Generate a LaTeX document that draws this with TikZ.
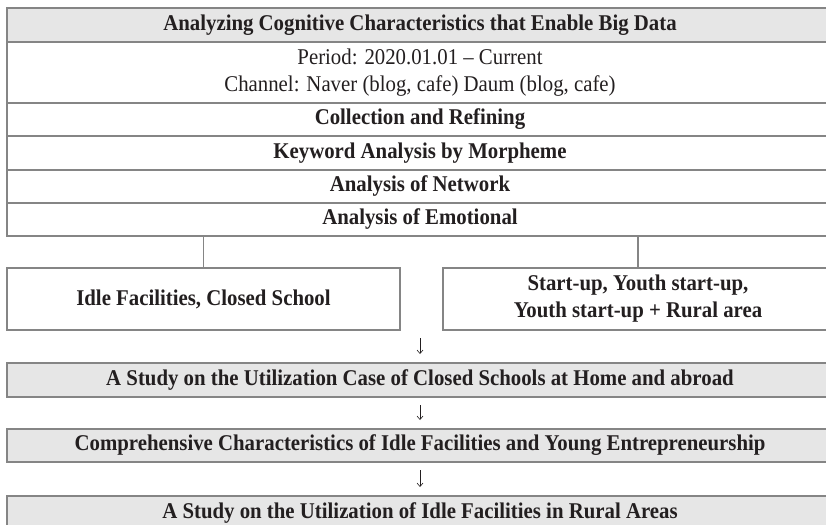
\documentclass[tikz,border=0pt]{standalone}
\usepackage{fontspec}
\setmainfont{Liberation Serif}[FakeStretch=0.925]
\usetikzlibrary{arrows.meta}
\definecolor{bord}{HTML}{858585}
\definecolor{fillg}{HTML}{E6E6E6}
\definecolor{txt}{HTML}{231F20}
\begin{document}
\begin{tikzpicture}[x=1pt,y=-1pt,
  box/.style={draw=bord, line width=1.2pt, inner sep=0pt, outer sep=0pt, text=txt,
    font=\fontsize{22.5}{27}\selectfont\bfseries, align=center, minimum width=826pt},
  greybox/.style={box, fill=fillg},
  plainfont/.style={font=\fontsize{22.5}{27.5}\selectfont},
  conn/.style={draw=bord, line width=1.2pt},
  arr/.style={draw=txt, line width=0.6pt, -{Straight Barb[length=3.5pt,width=6pt]}, shorten <=8pt, shorten >=9pt}]
\useasboundingbox (0,0) rectangle (826,524);
\clip (0,0) rectangle (826,524);
\fill[white] (0,0) rectangle (826,524);
\node[greybox, minimum height=34pt] (t) at (420,25) {Analyzing Cognitive Characteristics that Enable Big Data};
\node[box, plainfont, minimum height=61pt] (p) at (420,72.5) {Period: 2020.01.01 -- Current\\Channel: Naver (blog, cafe) Daum (blog, cafe)};
\node[box, minimum height=33pt] (c) at (420,119.5) {Collection and Refining};
\node[box, minimum height=34pt] (k) at (420,153) {Keyword Analysis by Morpheme};
\node[box, minimum height=33pt] (n) at (420,186.5) {Analysis of Network};
\node[box, minimum height=33pt] (e) at (420,219.5) {Analysis of Emotional};
\node[box, minimum width=393pt, minimum height=62pt] (l) at (203.5,299) {Idle Facilities, Closed School};
\node[box, minimum width=390pt, minimum height=62pt] (r) at (638,299) {Start-up, Youth start-up,\\Youth start-up + Rural area};
\node[greybox, minimum height=34pt] (s1) at (420,380) {A Study on the Utilization Case of Closed Schools at Home and abroad};
\node[greybox, minimum height=33pt] (s2) at (420,445.5) {Comprehensive Characteristics of Idle Facilities and Young Entrepreneurship};
\node[greybox, minimum height=34pt] (s3) at (420,513) {A Study on the Utilization of Idle Facilities in Rural Areas};
\draw[conn] (e.south -| l.north) -- (l.north);
\draw[conn] (e.south -| r.north) -- (r.north);
\draw[arr] (s1.north |- l.south) -- (s1.north);
\draw[arr] (s1.south) -- (s2.north);
\draw[arr] (s2.south) -- (s3.north);
\end{tikzpicture}
\end{document}
